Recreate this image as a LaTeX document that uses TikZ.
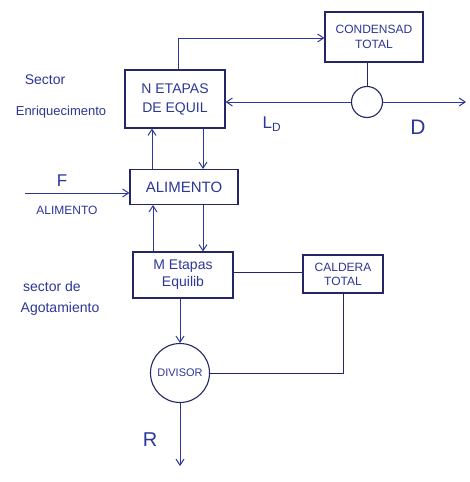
\documentclass[tikz,border=0pt]{standalone}
\usepackage{fontspec}
\setmainfont{Liberation Sans}
\usetikzlibrary{arrows.meta}
\definecolor{ink}{RGB}{45,55,150}
\definecolor{inkd}{RGB}{35,40,100}
\tikzset{
  blk/.style={draw=inkd, line width=1.1pt, text=ink, align=center, inner sep=0pt, font=\fontsize{14}{17}\selectfont},
  circ/.style={draw=inkd, line width=1.1pt, circle, inner sep=0pt, text=ink},
  flow/.style={draw=ink, line width=1pt, -{Straight Barb[length=6pt,width=8pt]}},
  ln/.style={draw=inkd, line width=1pt},
  lbl/.style={text=ink, inner sep=0pt},
}
\begin{document}
\begin{tikzpicture}[x=1pt,y=-1pt]
\useasboundingbox (0,0) rectangle (470,482);
\fill[white] (0,0) rectangle (470,482);
% blocks
\node[blk, minimum width=100pt, minimum height=58pt] (N) at (175,99) {N ETAPAS\\[2pt]DE EQUIL};
\node[blk, minimum width=98pt, minimum height=50pt, font=\fontsize{12}{15}\selectfont] (C) at (374,37) {CONDENSAD\\TOTAL};
\node[circ, minimum size=31pt] (S) at (367,102) {};
\node[blk, minimum width=108pt, minimum height=35pt, font=\fontsize{15}{17}\selectfont] (A) at (184,187) {ALIMENTO};
\node[blk, minimum width=100pt, minimum height=46pt] (M) at (183,275) {M Etapas\\Equilib};
\node[blk, minimum width=80pt, minimum height=38pt, font=\fontsize{12}{14}\selectfont] (K) at (343,274) {CALDERA\\TOTAL};
\node[circ, minimum size=59pt, font=\fontsize{11}{13}\selectfont] (Dv) at (180,373) {DIVISOR};
% free ends
\coordinate (Fin) at (25,193);
\coordinate (Dout) at (466,102);
\coordinate (Rout) at (180,466);
\coordinate (top) at (178,38);
% connectors
\draw[flow] (N.north -| top) |- (C.west |- top);
\draw[ln] (C.south -| S) -- (S.north);
\draw[flow] (S.west) -- (N.east |- S);
\draw[flow] (S.east) -- (Dout);
\draw[flow] (A.north -| 152,0) -- (N.south -| 152,0);
\draw[flow] (N.south -| 203,0) -- (A.north -| 203,0);
\draw[flow] (Fin) -- (A.west |- Fin);
\draw[flow] (M.north -| 153,0) -- (A.south -| 153,0);
\draw[flow] (A.south -| 203,0) -- (M.north -| 203,0);
\draw[ln] (M.east |- 0,272) -- (K.west |- 0,272);
\draw[ln] (K.south) |- (Dv.east);
\draw[flow] (M.south -| Dv) -- (Dv.north);
\draw[flow] (Dv.south) -- (Rout);
% labels
\node[lbl, font=\fontsize{17}{19}\selectfont] at (272,124) {L$_{\mathrm{D}}$};
\node[lbl, font=\fontsize{21}{23}\selectfont] at (418,127) {D};
\node[lbl, font=\fontsize{17}{19}\selectfont] at (62,181) {F};
\node[lbl, font=\fontsize{12}{14}\selectfont] at (67,210) {ALIMENTO};
\node[lbl, font=\fontsize{20}{22}\selectfont] at (150,440) {R};
\node[lbl, font=\fontsize{14}{16}\selectfont] at (45,80) {Sector};
\node[lbl, font=\fontsize{13}{15}\selectfont] at (61,112) {Enriquecimento};
\node[lbl, font=\fontsize{14}{16}\selectfont] at (52,286) {sector de};
\node[lbl, font=\fontsize{14}{16}\selectfont] at (60,309) {Agotamiento};
\end{tikzpicture}
\end{document}
